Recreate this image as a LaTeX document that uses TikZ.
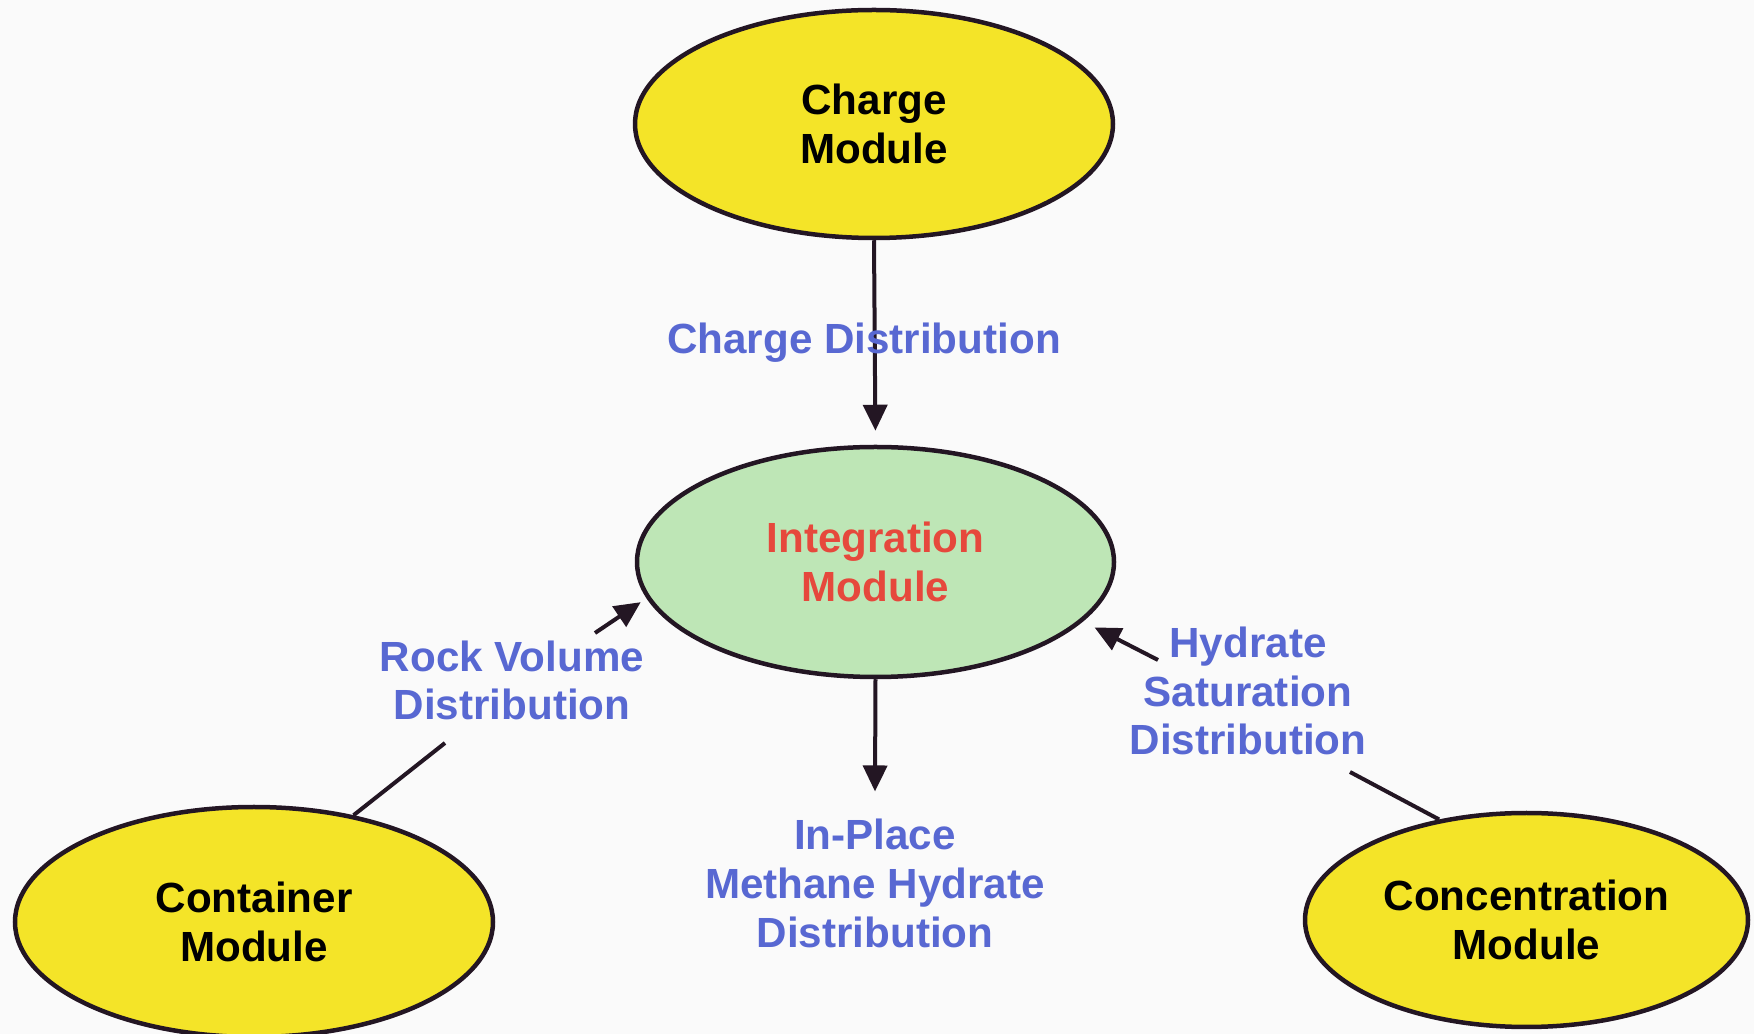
\documentclass[tikz,border=0pt]{standalone}
\usepackage{fontspec}
\setmainfont{Liberation Sans}
\usepackage{tikz}
\usetikzlibrary{positioning}
\usetikzlibrary{shapes.geometric,arrows.meta}
\usepackage{xcolor}

\definecolor{modyellow}{RGB}{244,228,40}
\definecolor{intgreen}{RGB}{190,230,182}
\definecolor{intred}{RGB}{230,72,60}
\definecolor{flowblue}{RGB}{88,104,210}
\definecolor{edgeblack}{RGB}{35,22,35}
\definecolor{paper}{RGB}{250,250,250}

\tikzset{
    module/.style={ellipse, draw=edgeblack, line width=0.45mm, fill=modyellow,
        inner sep=0pt, minimum width=4.78cm, minimum height=2.28cm, align=center,
        font=\fontsize{12pt}{13.9pt}\selectfont\bfseries},
    flowlabel/.style={text=flowblue, align=center, inner sep=1.5mm,
        font=\fontsize{12pt}{13.9pt}\selectfont\bfseries},
    flow/.style={draw=edgeblack, line width=0.4mm, -{Triangle[length=2.6mm,width=2.4mm]}},
    link/.style={draw=edgeblack, line width=0.4mm}
}

\begin{document}
\begin{tikzpicture}
    \fill[paper] (0,0) rectangle (17.54,-10.34);
    \useasboundingbox (0,0) rectangle (17.54,-10.34);

    % the four modules
    \node[module] (charge) at (8.74,-1.24) {Charge\\Module};
    \node[module, fill=intgreen, text=intred, minimum width=4.77cm, minimum height=2.30cm]
        (integration) at (8.755,-5.62) {Integration\\Module};
    \node[module, minimum height=2.30cm] (container) at (2.54,-9.22) {Container\\Module};
    \node[module, minimum width=4.43cm, minimum height=2.14cm]
        (concentration) at (15.265,-9.20) {Concentration\\Module};

    % loose ends of the side connectors
    \coordinate (rocktail) at (5.95,-6.33);
    \coordinate (rockfoot) at (4.45,-7.43);
    \coordinate (hydtail) at (11.58,-6.60);
    \coordinate (hydfoot) at (13.50,-7.72);

    \node[flowlabel] (rockvol) at (5.12,-6.805) {Rock Volume\\Distribution};
    \node[flowlabel] (hydsat) at (12.48,-6.91) {Hydrate\\Saturation\\Distribution};
    \node[flowlabel, inner sep=2.7mm] (inplace) at (8.75,-8.835) {In-Place\\Methane Hydrate\\Distribution};

    \draw[flow, shorten >=1.4mm] (charge.south) -- (integration.north);
    \draw[flow] (integration.south) -- (inplace.north);
    \draw[flow, shorten >=0.7mm] (rocktail) -- (integration.189);
    \draw[flow, shorten >=1.3mm] (hydtail) -- (integration.344);
    \draw[link] (container.47.5) -- (rockfoot);
    \draw[link] (concentration.131.8) -- (hydfoot);

    % label sits over the charge arrow
    \node[flowlabel] (chargedist) at (8.64,-3.43) {Charge Distribution};
\end{tikzpicture}
\end{document}
